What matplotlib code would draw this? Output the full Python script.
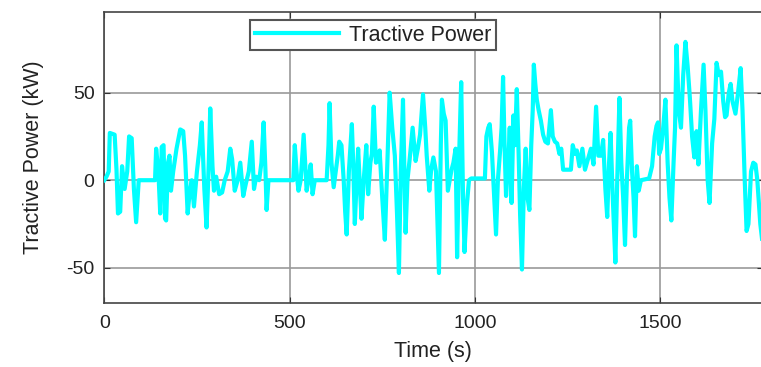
import matplotlib.pyplot as plt

plt.rcParams['font.family'] = ['Liberation Sans', 'DejaVu Sans']
plt.rcParams['axes.unicode_minus'] = False

# drive cycle traction power
time_s = [0, 6, 12, 15, 28, 33, 37, 43, 48, 55, 62, 67, 74, 80, 86, 93, 137, 140, 146, 151,
          155, 160, 164, 167, 172, 176, 180, 186, 195, 205, 213, 218, 225, 230, 236, 242, 250,
          258, 263, 270, 276, 282, 286, 292, 296, 302, 310, 318, 325, 333, 340, 345, 352, 360,
          367, 375, 382, 390, 398, 404, 410, 418, 424, 430, 435, 438, 443, 510, 514, 520, 524,
          530, 538, 546, 550, 557, 562, 568, 600, 605, 608, 613, 619, 625, 630, 634, 640, 646,
          650, 654, 660, 668, 672, 676, 681, 685, 690, 694, 700, 707, 712, 718, 722, 727, 733,
          738, 743, 750, 757, 763, 770, 777, 784, 790, 795, 800, 806, 813, 818, 824, 832, 840,
          846, 852, 860, 866, 870, 877, 882, 888, 895, 903, 908, 911, 916, 921, 927, 932, 937,
          942, 948, 952, 957, 963, 968, 972, 978, 984, 990, 1027, 1031, 1036, 1040, 1046, 1052,
          1057, 1062, 1068, 1072, 1076, 1080, 1084, 1090, 1094, 1099, 1104, 1108, 1113, 1118,
          1122, 1127, 1132, 1137, 1142, 1147, 1152, 1156, 1159, 1163, 1167, 1172, 1178, 1184,
          1190, 1197, 1205, 1210, 1216, 1222, 1228, 1233, 1238, 1246, 1259, 1264, 1270, 1275,
          1282, 1290, 1297, 1305, 1313, 1320, 1327, 1333, 1340, 1346, 1352, 1357, 1362, 1366,
          1372, 1379, 1384, 1390, 1395, 1400, 1405, 1410, 1416, 1419, 1424, 1428, 1432, 1437,
          1442, 1448, 1470, 1478, 1485, 1490, 1494, 1497, 1502, 1508, 1514, 1520, 1525, 1530,
          1536, 1540, 1544, 1550, 1556, 1562, 1568, 1574, 1580, 1586, 1592, 1598, 1603, 1610,
          1617, 1622, 1628, 1633, 1640, 1646, 1652, 1658, 1664, 1670, 1675, 1679, 1685, 1690,
          1695, 1703, 1710, 1717, 1722, 1728, 1733, 1738, 1745, 1751, 1757, 1762, 1770, 1776]
power_kw = [0, 2, 5, 27, 26, 6, -19, -18, 8, -5, 5, 25, 24, -5, -24, 0, 0, 18, 5, -19,
            19, 20, -22, -23, 10, 14, -6, 5, 18, 29, 28, 14, -19, -8, 0, -15, 5,
            20, 33, -5, -27, 10, 41, 8, -6, 2, -8, -7, 0, 5, 18, 12, -6, 0,
            10, -9, -2, 5, 22, -5, 2, 0, 10, 33, 5, -17, 0, 0, 20, 2, -6,
            0, 26, -6, -1, 9, -8, 0, 0, 20, 44, 10, -4, 6, 14, 22, 20, 0,
            -18, -31, 5, 32, 8, -25, 0, 18, -5, -22, 0, 20, -8, 10, 15, 42, 10,
            11, 17, -10, -34, 5, 50, 30, 14, -20, -53, 5, 46, -30, 0, 12, 30, 11,
            18, 26, 49, 30, 14, -6, 6, 13, 5, -53, 20, 46, 38, 34, -6, 0, 6,
            10, 18, -44, 10, 56, -10, -41, -15, 0, 1, 1, 25, 30, 32, 16, -10,
            -31, 0, 17, 30, 59, 20, -9, 10, 30, -13, 37, 20, 52, 15,
            -20, -51, -5, 18, -10, -17, 20, 40, 66, 55, 46, 40, 34, 26,
            22, 21, 40, 25, 22, 21, 15, 18, 6, 6, 6, 20, 15, 17,
            8, 18, 6, 12, 18, 9, 42, 14, 14, 23, -5, -21, 10, 27,
            -10, -47, 0, 47, 10, -10, -37, 0, 30, 34, 5, -10, -32, 8,
            -6, 0, 1, 8, 25, 31, 33, 15, 18, 30, 46, 10, -10, -23,
            10, 30, 77, 40, 30, 60, 79, 65, 47, 25, 13, 28, 9, 40,
            66, 40, 0, -13, 21, 35, 67, 60, 62, 45, 36, 37, 50, 55,
            45, 38, 50, 64, 40, 0, -29, -25, 5, 10, 9, 0, -25, -36]

x_ticks = [0, 500, 1000, 1500]
y_ticks = [-50, 0, 50]

fig = plt.figure(figsize=(7.61, 3.67), dpi=100)
ax = fig.add_axes([0.137, 0.175, 0.865, 0.792])

ax.plot(time_s, power_kw, color='#00ffff', lw=3.0, label='Tractive Power', zorder=3)

ax.set_xlim(0, 1776)
ax.set_ylim(-70, 96)
ax.set_xticks(x_ticks)
ax.set_yticks(y_ticks)
ax.grid(True, color='#9a9a9a', lw=1.2, zorder=0)
ax.tick_params(direction='in', length=4, labelsize=14, colors='#333333',
               top=True, right=True, labelcolor='#222222')
ax.tick_params(axis='x', pad=9)
ax.tick_params(axis='y', pad=7)
for sp in ax.spines.values():
    sp.set_color('#444444')
    sp.set_linewidth(1.2)

ax.set_xlabel('Time (s)', fontsize=15.5, color='#222222', labelpad=6)
ax.set_ylabel('Tractive Power (kW)', fontsize=15.5, color='#222222', labelpad=16)

leg = ax.legend(loc='upper left', bbox_to_anchor=(0.222, 0.972), fontsize=15.5,
                fancybox=False, edgecolor='#555555', framealpha=1, borderaxespad=0,
                handlelength=3.9, borderpad=0.2, handletextpad=0.5)
leg.get_frame().set_linewidth(1.5)
for txt in leg.get_texts():
    txt.set_color('#222222')

fig.savefig('out.png', dpi=100)
